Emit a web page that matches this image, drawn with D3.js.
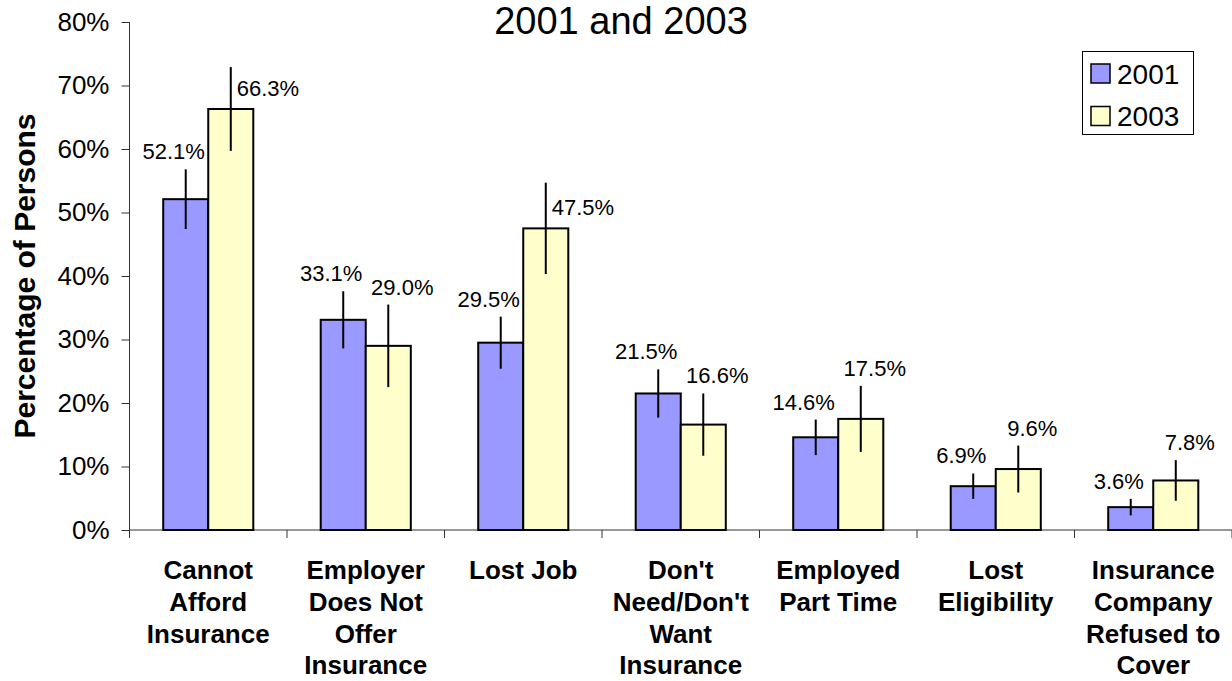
<!DOCTYPE html>
<html>
<head>
<meta charset="utf-8">
<script src="https://cdn.jsdelivr.net/npm/d3@7"></script>
<style>
  html, body { margin: 0; padding: 0; background: #fff; }
  svg { display: block; font-family: "Liberation Sans", Arial, sans-serif; }
</style>
</head>
<body>
<svg id="chart" width="1232" height="681"></svg>
<script>
// ---- data ----
const categories = [
  ["Cannot", "Afford", "Insurance"],
  ["Employer", "Does Not", "Offer", "Insurance"],
  ["Lost Job"],
  ["Don't", "Need/Don't", "Want", "Insurance"],
  ["Employed", "Part Time"],
  ["Lost", "Eligibility"],
  ["Insurance", "Company", "Refused to", "Cover"]
];
const seriesNames = ["2001", "2003"];
const values2001 = [52.1, 33.1, 29.5, 21.5, 14.6, 6.9, 3.6];
const values2003 = [66.3, 29.0, 47.5, 16.6, 17.5, 9.6, 7.8];
const err2001 = [4.7, 4.5, 4.1, 3.8, 2.8, 2.0, 1.3];
const err2003 = [6.6, 6.5, 7.2, 4.9, 5.2, 3.7, 3.2];
const yTicks = [0, 10, 20, 30, 40, 50, 60, 70, 80];
const titleText = "2001 and 2003";
const yLabelText = "Percentage of Persons";
const colors = ["#9999FF", "#FFFFCC"];

(function () {
// ---- layout ----
const svg = d3.select("#chart");
const pLeft = 129.5, pRight = 1232, pTop = 22, pBottom = 530;

const x = d3.scaleBand().domain(d3.range(categories.length)).range([pLeft, pRight]).padding(0);
const y = d3.scaleLinear().domain([0, 80]).range([pBottom, pTop]);
const barW = x.bandwidth() * 0.286;

const series = [
  { name: seriesNames[0], vals: values2001, errs: err2001, color: colors[0] },
  { name: seriesNames[1], vals: values2003, errs: err2003, color: colors[1] }
];

// Title
svg.append("text").attr("x", 621).attr("y", 34)
  .attr("text-anchor", "middle").attr("font-size", 38).text(titleText);

// Y axis label
svg.append("text")
  .attr("transform", "translate(35,276) rotate(-90)")
  .attr("text-anchor", "middle").attr("font-size", 30).attr("font-weight", "bold")
  .text(yLabelText);

// Y axis
const yAxis = d3.axisLeft(y).tickValues(yTicks).tickSize(8).tickPadding(12)
  .tickFormat(d => d + "%");
const gy = svg.append("g").attr("transform", `translate(${pLeft},0)`).call(yAxis);
gy.select(".domain").attr("stroke", "#333").attr("d", `M0,${pTop}V${pBottom + 8}`);
gy.selectAll(".tick line").attr("stroke", "#333");
gy.selectAll(".tick text").attr("font-size", 26).attr("fill", "#000")
  .attr("font-family", "Liberation Sans, Arial, sans-serif");

// X axis line + ticks at category boundaries
const gx = svg.append("g");
gx.append("line").attr("x1", pLeft).attr("x2", pRight).attr("y1", pBottom).attr("y2", pBottom)
  .attr("stroke", "#333");
gx.selectAll("line.tk").data(d3.range(categories.length + 1)).join("line")
  .attr("class", "tk")
  .attr("x1", i => pLeft + i * x.step()).attr("x2", i => pLeft + i * x.step())
  .attr("y1", pBottom).attr("y2", pBottom + 8).attr("stroke", "#333");

// Category labels
const catG = svg.append("g");
categories.forEach((lines, i) => {
  const t = catG.append("text")
    .attr("x", x(i) + x.bandwidth() / 2).attr("y", 579)
    .attr("text-anchor", "middle").attr("font-size", 26).attr("font-weight", "bold");
  lines.forEach((ln, k) => {
    t.append("tspan").attr("x", x(i) + x.bandwidth() / 2).attr("dy", k === 0 ? 0 : 31.8).text(ln);
  });
});

// Bars
series.forEach((s, si) => {
  const cx = i => x(i) + x.bandwidth() / 2 + (si === 0 ? -barW : 0);
  const g = svg.append("g");
  g.selectAll("rect").data(s.vals).join("rect")
    .attr("x", (d, i) => cx(i)).attr("width", barW)
    .attr("y", d => y(d)).attr("height", d => y(0) - y(d))
    .attr("fill", s.color).attr("stroke", "#000").attr("stroke-width", 2);
});

// Error bars and data labels
series.forEach((s, si) => {
  const g = svg.append("g");
  s.vals.forEach((v, i) => {
    const ex = x(i) + x.bandwidth() / 2 + (si === 0 ? -barW / 2 : barW / 2);
    const hi = v + s.errs[i], lo = v - s.errs[i];
    g.append("line").attr("x1", ex).attr("x2", ex)
      .attr("y1", y(hi)).attr("y2", y(lo)).attr("stroke", "#000").attr("stroke-width", 2);
    const lbl = g.append("text").attr("font-size", 22).text(v.toFixed(1) + "%");
    if (si === 1 && hi > 50) {
      lbl.attr("x", ex + 6).attr("y", y(v) - 21).attr("dy", "0.35em").attr("text-anchor", "start");
    } else {
      const lx = si === 0 ? ex - 12 : ex + 14;
      lbl.attr("x", lx).attr("y", y(hi) - 10).attr("text-anchor", "middle");
    }
  });
});

// Legend
const lg = svg.append("g");
lg.append("rect").attr("x", 1082.5).attr("y", 51.5).attr("width", 111).attr("height", 83)
  .attr("fill", "#fff").attr("stroke", "#000").attr("stroke-width", 1);
series.forEach((s, si) => {
  const yy = 64 + si * 42.5;
  lg.append("rect").attr("x", 1091).attr("y", yy).attr("width", 19).attr("height", 19)
    .attr("fill", s.color).attr("stroke", "#000").attr("stroke-width", 1.5);
  lg.append("text").attr("x", 1117).attr("y", yy + 9.5).attr("dy", "0.36em")
    .attr("font-size", 28).text(s.name);
});
})();
</script>
</body>
</html>
